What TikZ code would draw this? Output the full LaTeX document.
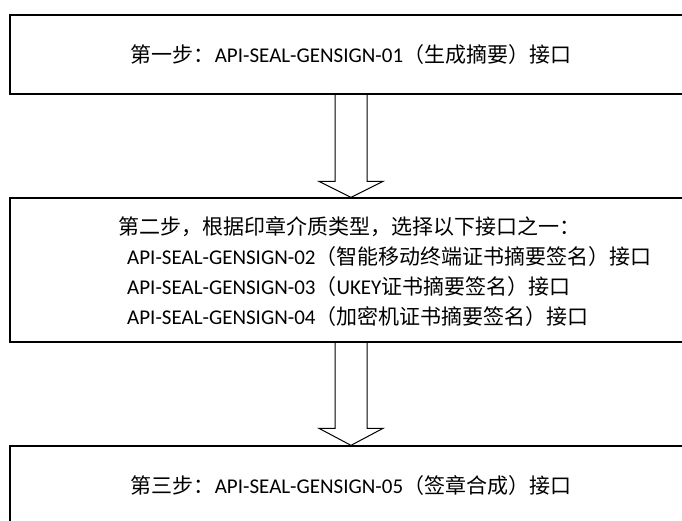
\documentclass[tikz,border=0pt]{standalone}
\usepackage{fontspec}
\setmainfont{Carlito}
\newfontfamily\cjk{Noto Sans CJK SC}
\usetikzlibrary{calc}
\def\hollowarrow[#1](#2)(#3)(#4:#5:#6) {\draw[#1] ($(#2.south)+(-#4,0)$) -- ($(#3.north)+(-#4,#6)$) -- ($(#3.north)+(-#5,#6)$) -- (#3.north) -- ($(#3.north)+(#5,#6)$) -- ($(#3.north)+(#4,#6)$) -- ($(#2.south)+(#4,0)$);}

\begin{document}
\begin{tikzpicture}[x=1pt, y=-1pt, font=\fontsize{21}{30}\selectfont,
	stepbox/.style={draw, line width=1.3pt, minimum width=682pt, inner sep=0pt},
	arrowline/.style={black, line width=1pt, line join=miter}]

	\useasboundingbox (0,0) rectangle (682,521);
	\clip (0,0) rectangle (682,521);

	% Step one
	\node[stepbox, minimum height=79pt] (first) at (351,54.5) {{\cjk 第一步：}API-SEAL-GENSIGN-01{\cjk （生成摘要）接口}};

	% Step two, the box and its four lines
	\node[stepbox, minimum height=144pt] (second) at (351,270) {};
	\node[anchor=west, align=left, inner sep=0pt] (choice) at (118,272) {{\cjk 第二步，根据印章介质类型，选择以下接口之一：}\\
		\hspace*{9pt}API-SEAL-GENSIGN-02{\cjk （智能移动终端证书摘要签名）接口}\\
		\hspace*{9pt}API-SEAL-GENSIGN-03{\cjk （}UKEY{\cjk 证书摘要签名）接口}\\
		\hspace*{9pt}API-SEAL-GENSIGN-04{\cjk （加密机证书摘要签名）接口}};

	% Step three
	\node[stepbox, minimum height=80pt] (third) at (351,486) {{\cjk 第三步：}API-SEAL-GENSIGN-05{\cjk （签章合成）接口}};

	% Hollow arrows between the steps
	\hollowarrow[arrowline](first)(second)(16pt:32pt:16pt)
	\hollowarrow[arrowline](second)(third)(16pt:32pt:17pt)

\end{tikzpicture}
\end{document}
